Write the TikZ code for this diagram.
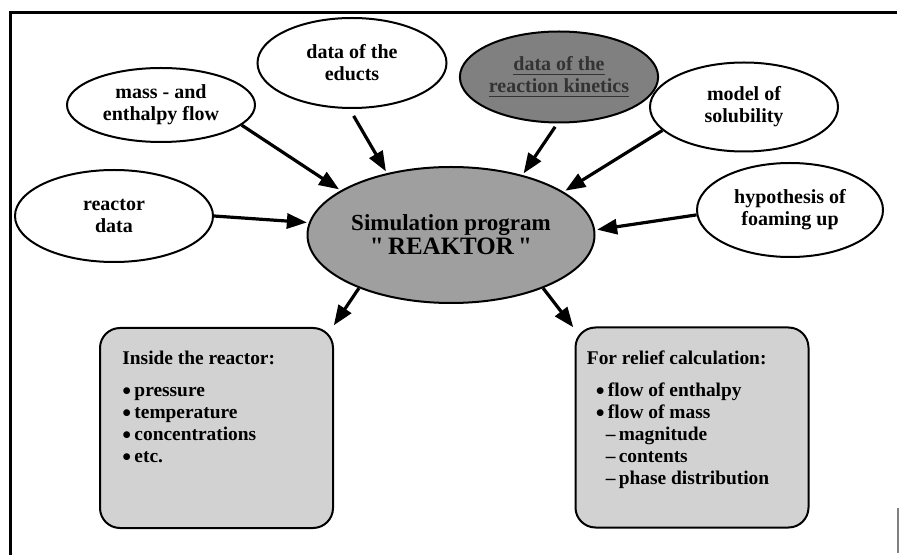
\documentclass[tikz,border=0pt]{standalone}
\usepackage{fontspec}
\setmainfont{Liberation Serif}
\usepackage{tikz}
\usetikzlibrary{arrows.meta, shapes.geometric, positioning}

\newcommand{\dotitem}{\raisebox{-0.35ex}{\scalebox{1.3}{\textbullet}}\,}

\begin{document}
\begin{tikzpicture}[
            x = 0.5pt, y = -0.5pt, % one unit per pixel, y downwards
            > = {Triangle[length=10pt, width=7.5pt]}, % arrow head style
            shorten > = 1pt, % don't touch arrow head to node
            font = \bfseries\fontsize{10}{11}\selectfont
        ]

        \tikzstyle{source}=[
            ellipse,
            draw = black,
            line width = 1pt,
            fill = white,
            align = center,
            inner sep = 0pt
        ]
        \tikzstyle{result}=[
            draw = black,
            line width = 1pt,
            fill = gray!35,
            rounded corners = 10pt,
            minimum width = 116.5pt,
            minimum height = 100pt
        ]
        \tikzstyle{listing}=[
            align = left,
            inner sep = 0pt,
            font = \bfseries\fontsize{9.7}{11}\selectfont
        ]
        \tikzstyle{flow}=[
            ->,
            line width = 1.6pt
        ]

        \useasboundingbox (0,0) rectangle (899,555);

        % frame
        \draw[line width = 1.5pt] (10,555) -- (10,13) -- (899,13);
        \draw[gray, line width = 0.6pt] (898,508) -- (898,555);

	\node[source, fill = gray!75, minimum width = 143.5pt, minimum height = 68pt] (sim) at (451,235)
	    {\fontsize{11.5}{13}\selectfont Simulation program\\[1pt]
	     \fontsize{12.5}{14}\selectfont \textquotedbl\,REAKTOR\,\textquotedbl};

	\node[source, minimum width = 99pt, minimum height = 46pt] (reactor) at (114,216) {reactor\\ data};
	\node[source, minimum width = 94pt, minimum height = 37pt] (mass) at (161,105) {mass - and\\ enthalpy flow};
	\node[source, minimum width = 94.5pt, minimum height = 45pt] (educts) at (352,63) {data of the\\ educts};
	\node[source, fill = gray, text = black!80, minimum width = 94.5pt, minimum height = 45.5pt] (kinetics) at (559,77)
	    {\underline{data of the}\\ \underline{reaction kinetics}};
	\node[source, minimum width = 94pt, minimum height = 44.5pt] (solubility) at (744,107) {model of\\ solubility};
	\node[source, minimum width = 93pt, minimum height = 47pt] (foaming) at (790,210) {hypothesis of\\ foaming up};

	\node[result] (inside) at (216.5,428) {};
	\node[result] (relief) at (692,427.5) {};

	\node[listing, below right = 12pt and 11.5pt of inside.north west] (insidetext)
	    {Inside the reactor:\\[5pt]
	     \dotitem pressure\\
	     \dotitem temperature\\
	     \dotitem concentrations\\
	     \dotitem etc.};
	\node[listing, below right = 12pt and 6pt of relief.north west] (relieftext)
	    {For relief calculation:\\[5pt]
	     \hspace*{4.5pt}\dotitem flow of enthalpy\\
	     \hspace*{4.5pt}\dotitem flow of mass\\
	     \hspace*{9.5pt}–\,magnitude\\
	     \hspace*{9.5pt}–\,contents\\
	     \hspace*{9.5pt}–\,phase distribution};

        \path[flow] (reactor.0) edge (sim.175);
        \path[flow] (mass.-14) edge (sim.158);
        \path[flow, shorten < = 4pt] (educts.-93) edge (sim.136);
        \path[flow, shorten < = 2pt] (kinetics.-92) edge (sim.40);
        \path[flow] (solubility.196) edge (sim.21);
        \path[flow] (foaming.183) edge (sim.2);
        \path[flow] (sim.210) edge (inside.41);
        \path[flow] (sim.330) edge (relief.140);

    \end{tikzpicture}
\end{document}
